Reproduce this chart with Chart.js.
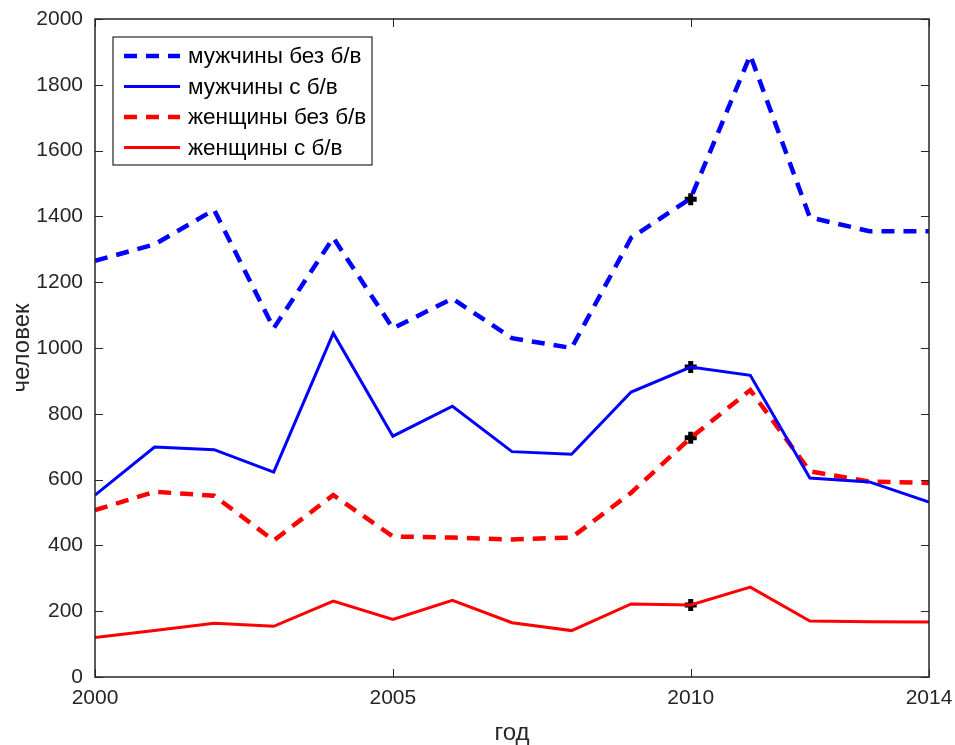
<!DOCTYPE html>
<html>
<head>
<meta charset="utf-8">
<script src="https://cdn.jsdelivr.net/npm/chart.js@4/dist/chart.umd.min.js"></script>
<style>
  html, body { margin: 0; padding: 0; background: #fff; }
  #wrap { width: 955px; height: 745px; }
</style>
</head>
<body>
<div id="wrap"><canvas id="chart" width="955" height="745"></canvas></div>
<script>
// data
const years = [2000, 2001, 2002, 2003, 2004, 2005, 2006, 2007, 2008, 2009, 2010, 2011, 2012, 2013, 2014];
const menNoBV   = [1265, 1315, 1420, 1060, 1335, 1060, 1150, 1030, 1000, 1335, 1455, 1890, 1397, 1355, 1355];
const menBV     = [553, 699, 691, 623, 1045, 732, 823, 685, 677, 866, 942, 917, 605, 593, 532];
const womenNoBV = [507, 563, 551, 415, 553, 427, 424, 418, 424, 560, 727, 872, 625, 594, 590];
const womenBV   = [120, 141, 163, 154, 231, 175, 233, 165, 141, 222, 219, 273, 170, 168, 167];
const markerYear = 2010;
const markerValues = [1452, 942, 727, 219];
const xTicks = [2000, 2005, 2010, 2014];
const yTicks = [0, 200, 400, 600, 800, 1000, 1200, 1400, 1600, 1800, 2000];
const seriesLabels = ['мужчины без б/в', 'мужчины с б/в', 'женщины без б/в', 'женщины с б/в'];

const AXIS = '#262626';
const FONT = '"Liberation Sans", Arial, sans-serif';

function pts(ys) {
    return years.map((x, i) => ({ x: x, y: ys[i] }));
}

function lineSet(label, data, color, dashed) {
    return {
        label: label,
        data: pts(data),
        borderColor: color,
        backgroundColor: color,
        borderWidth: dashed ? 4.5 : 3,
        borderDash: dashed ? [13, 9] : [],
        pointRadius: 0,
        tension: 0,
        fill: false
    };
}

// matlab-like box with inward ticks + legend inside the axes
const boxPlugin = {
    id: 'box',
    afterDraw(chart) {
        const ctx = chart.ctx;
        const a = chart.chartArea;
        const xs = chart.scales.x, ys = chart.scales.y;
        ctx.save();
        ctx.strokeStyle = AXIS;
        ctx.lineWidth = 1.5;
        ctx.strokeRect(a.left, a.top, a.right - a.left, a.bottom - a.top);
        ctx.lineWidth = 1;
        const tl = 8;
        ctx.beginPath();
        yTicks.forEach(v => {
            const p = Math.round(ys.getPixelForValue(v)) + 0.5;
            ctx.moveTo(a.left, p); ctx.lineTo(a.left + tl, p);
            ctx.moveTo(a.right, p); ctx.lineTo(a.right - tl, p);
        });
        xTicks.forEach(v => {
            const p = Math.round(xs.getPixelForValue(v)) + 0.5;
            ctx.moveTo(p, a.bottom); ctx.lineTo(p, a.bottom - tl);
            ctx.moveTo(p, a.top); ctx.lineTo(p, a.top + tl);
        });
        ctx.stroke();

        // legend
        const lx = a.left + 18, ly = a.top + 18, lw = 259, lh = 128;
        ctx.fillStyle = '#fff';
        ctx.fillRect(lx, ly, lw, lh);
        ctx.lineWidth = 1.2;
        ctx.strokeStyle = AXIS;
        ctx.strokeRect(lx, ly, lw, lh);
        ctx.font = '22.5px ' + FONT;
        ctx.textBaseline = 'middle';
        ctx.textAlign = 'left';
        for (let i = 0; i < 4; i++) {
            const ds = chart.data.datasets[i];
            const cy = ly + 19 + i * 30.5;
            ctx.beginPath();
            ctx.strokeStyle = ds.borderColor;
            ctx.lineWidth = ds.borderWidth;
            ctx.setLineDash(ds.borderDash);
            ctx.moveTo(lx + 11, cy);
            ctx.lineTo(lx + 67, cy);
            ctx.stroke();
            ctx.setLineDash([]);
            ctx.fillStyle = '#000';
            ctx.fillText(ds.label, lx + 75, cy + 1);
        }
        ctx.restore();
    }
};

const datasets = [
    lineSet(seriesLabels[0], menNoBV, '#0000ff', true),
    lineSet(seriesLabels[1], menBV, '#0000ff', false),
    lineSet(seriesLabels[2], womenNoBV, '#ff0000', true),
    lineSet(seriesLabels[3], womenBV, '#ff0000', false),
    {
        label: 'marker',
        data: markerValues.map(v => ({ x: markerYear, y: v })),
        showLine: false,
        pointStyle: 'cross',
        pointRadius: 6,
        pointBorderWidth: 5,
        pointBorderColor: '#000',
        pointBackgroundColor: '#000',
        borderColor: '#000'
    }
];

new Chart(document.getElementById('chart').getContext('2d'), {
    type: 'line',
    data: { datasets: datasets },
    options: {
        responsive: false,
        animation: false,
        layout: { padding: { top: 19, right: 26, left: 0, bottom: 0 } },
        plugins: { legend: { display: false }, tooltip: { enabled: false } },
        scales: {
            x: {
                type: 'linear',
                min: 2000,
                max: 2014,
                afterBuildTicks: s => { s.ticks = xTicks.map(v => ({ value: v })); },
                afterFit: s => { s.height = 68; s.paddingLeft = 0; s.paddingRight = 0; },
                grid: { display: false, drawTicks: false },
                border: { display: false },
                ticks: {
                    color: AXIS,
                    font: { family: FONT, size: 21 },
                    padding: 9,
                    maxRotation: 0,
                    callback: v => String(v)
                },
                title: {
                    display: true,
                    text: 'год',
                    color: AXIS,
                    font: { family: FONT, size: 24 },
                    padding: { top: 0, bottom: -3 }
                }
            },
            y: {
                min: 0,
                max: 2000,
                afterBuildTicks: s => { s.ticks = yTicks.map(v => ({ value: v })); },
                afterFit: s => { s.width = 95; s.paddingTop = 0; s.paddingBottom = 0; },
                grid: { display: false, drawTicks: false },
                border: { display: false },
                ticks: {
                    color: AXIS,
                    font: { family: FONT, size: 21 },
                    padding: 12,
                    callback: v => String(v)
                },
                title: {
                    display: true,
                    text: 'человек',
                    color: AXIS,
                    font: { family: FONT, size: 24 },
                    padding: { top: 8, bottom: 0 }
                }
            }
        }
    },
    plugins: [boxPlugin]
});
</script>
</body>
</html>
